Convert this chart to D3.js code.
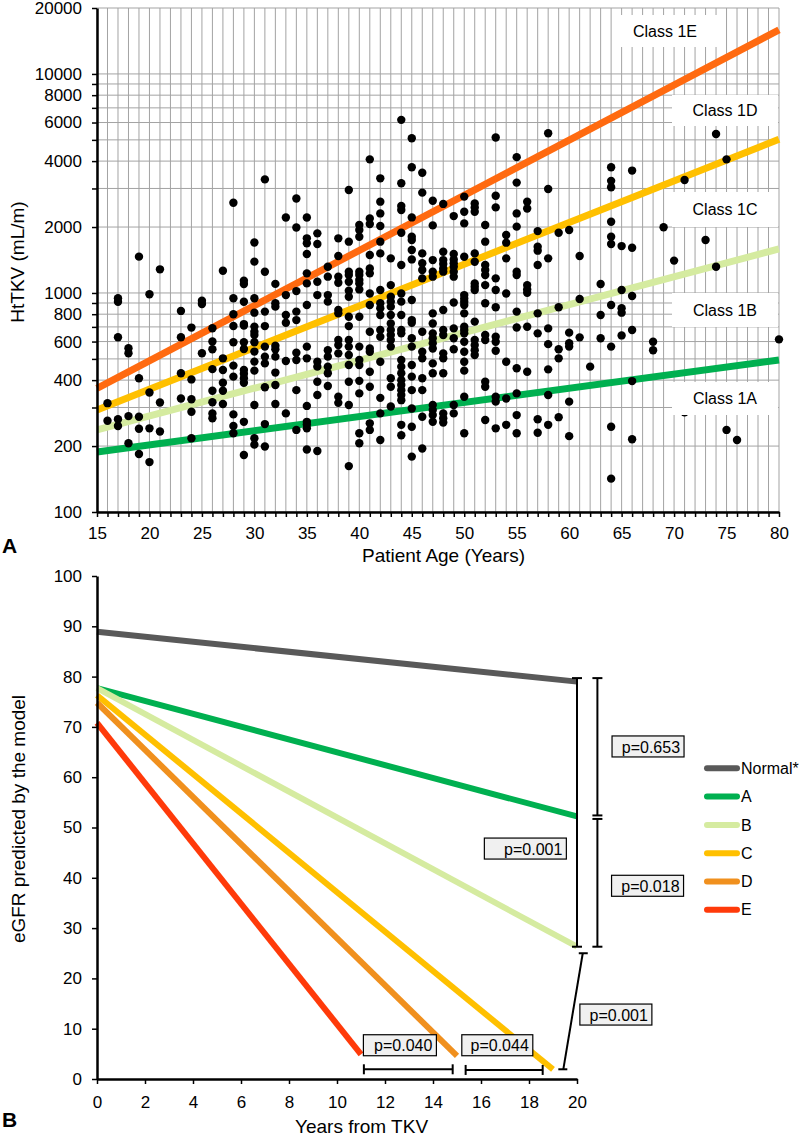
<!DOCTYPE html>
<html><head><meta charset="utf-8">
<script src="https://cdn.jsdelivr.net/npm/d3@7"></script>
<style>body{margin:0;background:#fff} svg text{font-family:"Liberation Sans",Arial,sans-serif;fill:#000}</style>
</head><body><svg id="c" width="802" height="1139"></svg>
<script>
// ---------------- DATA: panel A ----------------
const scatterColumns = [
[16,[314,261]],
[17,[946,912,628,265,247]],
[18,[559,531,274,206]],
[19,[1465,408,272,240,184]],
[20,[986,351,241,169]],
[21,[1282,316,233]],
[23,[828,628,430,330]],
[24,[695,403,327,287,217]],
[25,[922,891,531]],
[26,[690,600,553,449,358,317,282,268]],
[27,[1264,503,445,389,358,311]],
[28,[2580,946,800,707,596,466,415,279,247,229]],
[29,[1138,1099,912,721,710,596,555,445,428,408,389,258,182]],
[30,[1700,1390,946,813,702,665,643,596,540,486,442,308,217,203]],
[31,[3300,1250,822,706,569,512,477,371,252,199]],
[32,[1100,897,866,574,553,512,433,380,311]],
[33,[2210,978,793,731,489,282]],
[34,[2700,1990,1020,822,752,533,494,360,237]],
[35,[2210,1776,1685,1506,1229,1106,881,569,503,305,258,251,241,193]],
[36,[1871,1673,1126,978,485,461,393,342,190]],
[37,[1318,1187,978,913,548,512,461,430,376]],
[38,[1776,1474,1187,1114,836,807,610,578,530,336,315]],
[39,[2950,1715,1251,1208,1126,1024,961,779,706,610,569,521,469,393,308,162]],
[40,[2042,1938,1807,1251,1208,1146,1106,1038,779,569,494,469,397,348,229,206]],
[41,[4074,2190,2065,1490,1295,1229,995,881,665,558,539,437,373,254,237]],
[42,[3337,2611,2308,2022,1715,1516,1031,897,851,793,677,631,485,332,282,213]],
[43,[1439,1086,961,913,866,793,726,677,643,610,569,408,373,303]],
[44,[6170,3170,2494,2392,1883,1342,995,913,793,677,654,494,461,430,400,380,360,342,324,250,224]],
[45,[5085,3747,2213,1807,1745,1571,1423,929,752,731,621,569,469,415,360,297,245,179]],
[46,[3540,2871,1516,1366,1273,1166,665,539,503,408,360,272,195]],
[47,[2638,2035,1413,1251,1187,807,726,654,621,589,558,477,430,308,292,277,258]],
[48,[2550,1543,1413,1356,1295,1251,836,677,643,530,503,430,282,268,256]],
[49,[2244,1506,1423,1366,1318,1251,1187,904,689,621,553,308,282]],
[50,[2754,2350,2078,1464,978,944,913,881,807,701,677,654,599,539,485,442,336,229]],
[51,[2564,2459,2350,1516,1389,1106,1068,1031,740,610,578,548,521]],
[52,[2042,1715,1342,1273,1208,1086,897,643,610,393,373,263]],
[53,[5130,2780,2459,1166,1031,860,631,599,545,336,319,241]],
[54,[1839,1697,1439,995,485,330,250]],
[55,[4170,3190,2308,2008,1251,1208,822,696,453,348,277,229]],
[56,[2611,2430,1086,1038,1002,701,437]],
[57,[1916,1626,1560,1342,807,654,265,230]],
[58,[5360,2985,1439,689,584,448,342,250]],
[59,[1883,860,553,503,271]],
[60,[1938,659,589,569,319,222]],
[61,[1474,938,627]],
[62,[461]],
[63,[1098,793,621]],
[64,[3747,3250,3040,2114,1807,1673,881,569,245,142]],
[65,[1637,1031,851,813,640]],
[66,[3620,1609,968,677,396,215]],
[68,[599,548]],
[69,[1995]],
[70,[1405]],
[71,[3280,285]],
[73,[1745]],
[74,[5320,1318]],
[75,[4074,237]],
[76,[213]],
[80,[614]]
];
const classNames = ["1A","1B","1C","1D"];
const classAges = [15, 80];
const classStartValues = [188, 237, 292, 367];
const classEndValues = [494, 1588, 5035, 15900];
const classLabels = ["Class 1E","Class 1D","Class 1C","Class 1B","Class 1A"];
const yTickLabelsA = [100,200,400,600,800,1000,2000,4000,6000,8000,10000,20000];
const xTickLabelsA = [15,20,25,30,35,40,45,50,55,60,65,70,75,80];

// ---------------- DATA: panel B ----------------
const seriesNames = ["Normal*","A","B","C","D","E"];
const seriesYears = [[0,20],[0,20],[0,20],[0,19],[0,15],[0,11]];
const seriesValues = [[88.9,79.0],[77.7,52.2],[77.7,26.3],[76.3,1.9],[74.8,4.6],[70.8,4.9]];
const pLabels = ["p=0.653","p=0.001","p=0.018","p=0.001","p=0.040","p=0.044"];

// ---------------- STYLE ----------------
const classColors = ["#00b050","#d5eba0","#ffc000","#ff6a10"];
const seriesColors = ["#595959","#00b050","#d5eba0","#ffc000","#f0901e","#ff3a0a"];
const gridColor = "#a3a3a3";

const svg = d3.select("#c");

// ================= PANEL A =================
const xA = d3.scaleLinear().domain([15,80]).range([97,779]);
const yA = d3.scaleLog().domain([100,20000]).range([512,8]);
const gridAges = d3.range(15,81);
const gridVals = [...d3.range(100,1000,100), ...d3.range(1000,10000,1000), 10000, 20000];

const gA = svg.append("g");
gA.selectAll("line.vg").data(gridAges).join("line")
  .attr("x1", d=>xA(d)).attr("x2", d=>xA(d)).attr("y1", yA(20000)).attr("y2", yA(100))
  .attr("stroke", gridColor).attr("stroke-width", 1);
gA.selectAll("line.hg").data(gridVals).join("line")
  .attr("x1", xA(15)).attr("x2", xA(80)).attr("y1", d=>yA(d)).attr("y2", d=>yA(d))
  .attr("stroke", gridColor).attr("stroke-width", 1);

// class lines
const classData = classNames.map((n,i)=>({n, pts:[[classAges[0],classStartValues[i]],[classAges[1],classEndValues[i]]], c:classColors[i]}));
gA.selectAll("path.cl").data(classData).join("path")
  .attr("d", d=>d3.line().x(p=>xA(p[0])).y(p=>yA(p[1]))(d.pts))
  .attr("stroke", d=>d.c).attr("stroke-width", 7).attr("fill","none");

// dots
const pts = scatterColumns.flatMap(([a,vals])=>vals.map(v=>({a,v})));
gA.selectAll("circle").data(pts).join("circle")
  .attr("cx", d=>xA(d.a)).attr("cy", d=>yA(d.v)).attr("r", 4.2).attr("fill","#000");

// class label boxes
const boxPos = [[612,15,106,32],[672,95,106,31],[672,192,106,35],[672,293,106,34],[672,382,106,33]];
classLabels.forEach((t,i)=>{
  const [bx,by,bw,bh] = boxPos[i];
  gA.append("rect").attr("x",bx).attr("y",by).attr("width",bw).attr("height",bh).attr("fill","#fff");
  gA.append("text").attr("x",bx+bw/2).attr("y",by+bh/2).attr("dy","0.35em")
    .attr("text-anchor","middle").attr("font-size",16).text(t);
});

// axes A
const axL = gA.append("g").attr("transform",`translate(${xA(15)},0)`)
  .call(d3.axisLeft(yA).tickValues(gridVals).tickFormat(d=>yTickLabelsA.includes(d)?String(d):"").tickSize(5).tickSizeOuter(0).tickPadding(10));
const axB = gA.append("g").attr("transform",`translate(0,${yA(100)})`)
  .call(d3.axisBottom(xA).tickValues(gridAges).tickFormat(d=>xTickLabelsA.includes(d)?String(d):"").tickSize(5).tickSizeOuter(0).tickPadding(10));
[axL,axB].forEach(a=>{
  a.select(".domain").attr("stroke","#000").attr("stroke-width",2.5);
  a.selectAll(".tick line").attr("stroke","#000").attr("stroke-width",1.5);
  a.selectAll("text").attr("font-size",17).attr("font-family",null);
});
svg.append("text").attr("x",362).attr("y",562).attr("font-size",19).text("Patient Age (Years)");
svg.append("text").attr("transform","translate(24,262) rotate(-90)").attr("text-anchor","middle").attr("font-size",19).text("HtTKV (mL/m)");
svg.append("text").attr("x",2).attr("y",553).attr("font-size",21).attr("font-weight","bold").text("A");

// ================= PANEL B =================
const xB = d3.scaleLinear().domain([0,20]).range([97,577]);
const yB = d3.scaleLinear().domain([0,100]).range([1079,576]);
const gB = svg.append("g");
const sData = seriesNames.map((n,i)=>({n, c:seriesColors[i], pts:seriesYears[i].map((yr,j)=>[yr,seriesValues[i][j]])}));
gB.selectAll("path.s").data(sData).join("path")
  .attr("d", d=>d3.line().x(p=>xB(p[0])).y(p=>yB(p[1]))(d.pts))
  .attr("stroke", d=>d.c).attr("stroke-width", 6).attr("fill","none").attr("stroke-linecap","butt");

const axBL = gB.append("g").attr("transform",`translate(${xB(0)},0)`)
  .call(d3.axisLeft(yB).tickValues(d3.range(0,101,10)).tickSize(5).tickSizeOuter(0).tickPadding(10));
const axBB = gB.append("g").attr("transform",`translate(0,${yB(0)})`)
  .call(d3.axisBottom(xB).tickValues(d3.range(0,21,2)).tickSize(5).tickSizeOuter(0).tickPadding(12));
[axBL,axBB].forEach(a=>{
  a.select(".domain").attr("stroke","#000").attr("stroke-width",2.5);
  a.selectAll(".tick line").attr("stroke","#000").attr("stroke-width",1.5);
  a.selectAll("text").attr("font-size",17).attr("font-family",null);
});
svg.append("text").attr("x",295).attr("y",1133).attr("font-size",19).text("Years from TKV");
svg.append("text").attr("transform","translate(25,819) rotate(-90)").attr("text-anchor","middle").attr("font-size",19).text("eGFR predicted by the model");
svg.append("text").attr("x",2).attr("y",1127).attr("font-size",21).attr("font-weight","bold").text("B");

// brackets (data coordinates)
const br = gB.append("g").attr("stroke","#000").attr("stroke-width",2).attr("fill","none");
function vBracket(yr, v0, v1, capTop, capBot){
  const X = xB(yr);
  br.append("line").attr("x1",X).attr("x2",X).attr("y1",yB(v0)).attr("y2",yB(v1));
  if(capTop) br.append("line").attr("x1",X-5).attr("x2",X+5).attr("y1",yB(v0)).attr("y2",yB(v0));
  if(capBot) br.append("line").attr("x1",X-5).attr("x2",X+5).attr("y1",yB(v1)).attr("y2",yB(v1));
}
function hBracket(v, yr0, yr1){
  const Y = yB(v);
  br.append("line").attr("x1",xB(yr0)).attr("x2",xB(yr1)).attr("y1",Y).attr("y2",Y);
  [yr0,yr1].forEach(yr=>br.append("line").attr("x1",xB(yr)).attr("x2",xB(yr)).attr("y1",Y-5).attr("y2",Y+5));
}
vBracket(20, 79.7, 26.3, true, true);
vBracket(20.85, 79.7, 52.4, true, true);
vBracket(20.85, 51.7, 26.3, true, true);
hBracket(1.93, 11.12, 14.82);
hBracket(1.8, 15.36, 18.57);
// diagonal bracket C -> B
const d0 = [19.43, 1.93], d1 = [20.24, 25.0];
br.append("line").attr("x1",xB(d0[0])).attr("y1",yB(d0[1])).attr("x2",xB(d1[0])).attr("y2",yB(d1[1]));
br.append("line").attr("x1",xB(d0[0])-5).attr("x2",xB(d0[0])+4).attr("y1",yB(d0[1])).attr("y2",yB(d0[1]));
br.append("line").attr("x1",xB(d1[0])-4).attr("x2",xB(d1[0])+5).attr("y1",yB(d1[1])).attr("y2",yB(d1[1]));

// p-value boxes: [year of left edge, value of top edge, width px]
const pBoxes = [[21.46,68.2,72],[16.14,47.9,82],[21.44,40.5,72],[20.12,14.9,72],[11.1,8.8,73],[15.2,8.8,71]];
pLabels.forEach((t,i)=>{
  const [yr,v,w] = pBoxes[i];
  const bx = xB(yr), by = yB(v);
  gB.append("rect").attr("x",bx).attr("y",by).attr("width",w).attr("height",21)
    .attr("fill","#f0f0f0").attr("stroke","#000").attr("stroke-width",1.2);
  gB.append("text").attr("x",bx+w-4).attr("y",by+11).attr("dy","0.35em")
    .attr("text-anchor","end").attr("font-size",16).text(t);
});

// legend
const lg = gB.append("g");
seriesNames.forEach((n,i)=>{
  const Y = 768.3 + i*28.3;
  lg.append("line").attr("x1",707).attr("x2",737).attr("y1",Y).attr("y2",Y)
    .attr("stroke",seriesColors[i]).attr("stroke-width",6).attr("stroke-linecap","round");
  lg.append("text").attr("x",741).attr("y",Y).attr("dy","0.35em").attr("font-size",16).text(n);
});
</script></body></html>
